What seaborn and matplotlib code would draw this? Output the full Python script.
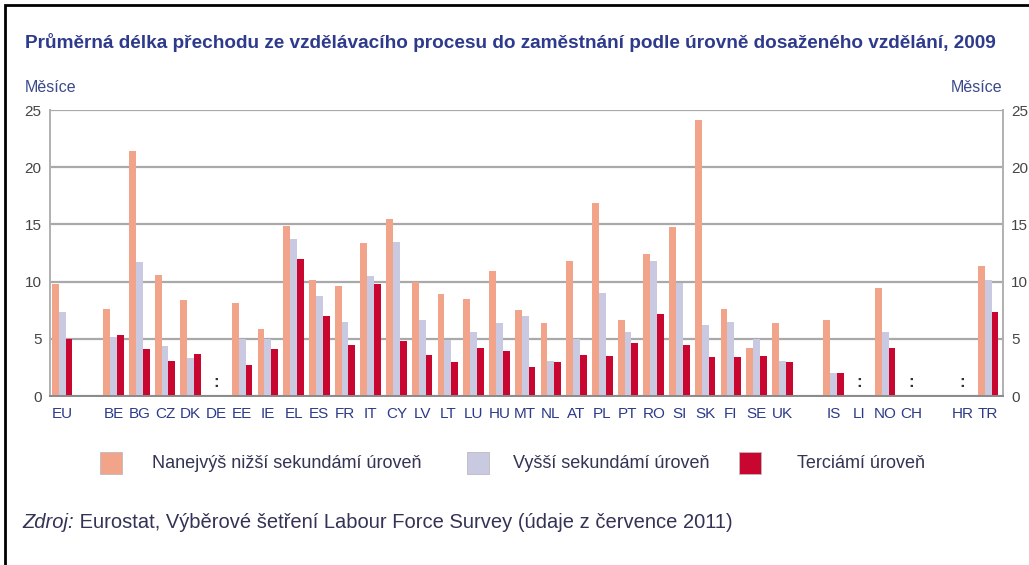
import numpy as np
import pandas as pd
import matplotlib
matplotlib.use("Agg")
import matplotlib.pyplot as plt
from matplotlib import font_manager
from matplotlib.patches import Rectangle
import seaborn as sns

# ---------------- data ----------------
countries = ["EU", "BE", "BG", "CZ", "DK", "DE", "EE", "IE", "EL", "ES", "FR",
             "IT", "CY", "LV", "LT", "LU", "HU", "MT", "NL", "AT", "PL", "PT",
             "RO", "SI", "SK", "FI", "SE", "UK", "IS", "LI", "NO", "CH", "HR", "TR"]
nan = np.nan
lower_secondary = [9.8, 7.6, 21.4, 10.6, 8.4, nan, 8.1, 5.9, 14.9, 10.1, 9.6,
                   13.4, 15.5, 10.0, 8.9, 8.5, 10.9, 7.5, 6.4, 11.8, 16.9, 6.6,
                   12.4, 14.8, 24.1, 7.6, 4.2, 6.4, 6.6, nan, 9.4, nan, nan, 11.4]
upper_secondary = [7.3, 5.2, 11.7, 4.4, 3.3, nan, 5.0, 5.0, 13.7, 8.7, 6.5,
                   10.5, 13.5, 6.6, 4.9, 5.6, 6.4, 7.0, 3.1, 5.0, 9.0, 5.6,
                   11.8, 9.9, 6.2, 6.5, 5.0, 3.1, 2.0, nan, 5.6, nan, nan, 10.1]
tertiary = [5.0, 5.3, 4.1, 3.1, 3.7, nan, 2.7, 4.1, 12.0, 7.0, 4.5,
            9.8, 4.8, 3.6, 3.0, 4.2, 3.9, 2.5, 3.0, 3.6, 3.5, 4.6,
            7.2, 4.5, 3.4, 3.4, 3.5, 3.0, 2.0, nan, 4.2, nan, nan, 7.3]
levels = ["Nanejvýš nižší sekundámí úroveň", "Vyšší sekundámí úroveň", "Terciámí úroveň"]
# groups separated by empty slots
groups = [["EU"],
          ["BE", "BG", "CZ", "DK", "DE", "EE", "IE", "EL", "ES", "FR", "IT", "CY",
           "LV", "LT", "LU", "HU", "MT", "NL", "AT", "PL", "PT", "RO", "SI", "SK",
           "FI", "SE", "UK"],
          ["IS", "LI", "NO", "CH"],
          ["HR", "TR"]]
yticks = [0, 5, 10, 15, 20, 25]

title = "Průměrná délka přechodu ze vzdělávacího procesu do zaměstnání podle úrovně dosaženého vzdělání, 2009"
unit = "Měsíce"
source_lbl = "Zdroj:"
source_txt = " Eurostat, Výběrové šetření Labour Force Survey (údaje z července 2011)"

colors = ["#F2A48A", "#C9C9E1", "#C8062F"]

# ---------------- frame ----------------
df = pd.DataFrame({"country": countries * 3,
                   "level": sum([[l] * len(countries) for l in levels], []),
                   "value": lower_secondary + upper_secondary + tertiary})

order = []
for i, g in enumerate(groups):
    if i > 0:
        order.append(" " * i)
    order += g

avail = {f.name for f in font_manager.fontManager.ttflist}
regular = "Liberation Sans" if "Liberation Sans" in avail else "DejaVu Sans"

sns.set_style("white")
plt.rcParams["font.family"] = [regular, "DejaVu Sans"]

W, H = 1029, 565
fig = plt.figure(figsize=(W / 100, H / 100), dpi=100)
ax = fig.add_axes([50 / W, 1 - 396 / H, 953 / W, 286 / H])

sns.barplot(data=df, x="country", y="value", hue="level", order=order,
            hue_order=levels, palette=colors, saturation=1, width=0.8,
            errorbar=None, legend=False, ax=ax, linewidth=0)

ax.set_ylim(0, 25)
ax.set_xlim(-0.47, len(order) - 1 + 0.58)
ax.set_yticks(yticks)
ax.set_yticklabels([str(t) for t in yticks])
ax.set_xticks(range(len(order)))
ax.set_xticklabels([o if o.strip() else "" for o in order])
ax.set_xlabel("")
ax.set_ylabel("")
ax.yaxis.grid(True, color="#A9A9A9", linewidth=1.6)
ax.set_axisbelow(True)
ax.tick_params(axis="y", labelright=True, left=False, right=False, length=0,
               labelsize=11, colors="#454545", pad=6)
ax.tick_params(axis="x", bottom=False, length=0, labelsize=11,
               labelcolor="#2B3A8A", pad=8)
for s in ["left", "right", "bottom"]:
    ax.spines[s].set_color("#B0B0B0")
    ax.spines[s].set_linewidth(1.4)
ax.spines["top"].set_visible(False)
ax.spines["bottom"].set_color("#8A8A8A")

# missing data markers
for c in countries:
    if np.isnan(lower_secondary[countries.index(c)]):
        ax.text(order.index(c), 1.2, ":", ha="center", va="center",
                fontsize=12, fontweight="bold", color="#333333")

# title, fitted to the reference width
tt = fig.text(25 / W, 1 - 42 / H, title, fontsize=13, fontweight="bold",
              color="#2E3A8C", ha="left", va="center")
fig.canvas.draw()
tw = tt.get_window_extent().width
tt.set_fontsize(13 * 972 / tw)

fig.text(25 / W, 1 - 88 / H, unit, fontsize=11.5, color="#3A4A8A", ha="left", va="center")
fig.text(1002 / W, 1 - 88 / H, unit, fontsize=11.5, color="#3A4A8A", ha="right", va="center")

# legend
leg_y = 1 - 463 / H
sw = [(100, 152), (467, 513), (739, 797)]
for (sx, tx), col, lab in zip(sw, colors, levels):
    fig.add_artist(Rectangle((sx / W, 1 - 474 / H), 22 / W, 22 / H,
                             transform=fig.transFigure, facecolor=col,
                             edgecolor="#BBBBBB", linewidth=0.6))
    fig.text(tx / W, leg_y, lab, fontsize=13, color="#333355",
             ha="left", va="center")

# source
t = fig.text(22 / W, 1 - 522 / H, source_lbl, fontsize=14.5, color="#333355",
             style="italic", ha="left", va="center")
fig.canvas.draw()
bb = t.get_window_extent()
fig.text(bb.x1 / W, 1 - 522 / H, source_txt, fontsize=14.5, color="#333355",
         ha="left", va="center")

# outer frame (right and bottom edges lie outside the picture)
fig.add_artist(Rectangle((5 / W, -0.2), 1.2, 1.2 - 5 / H,
                         transform=fig.transFigure, fill=False,
                         edgecolor="black", linewidth=2))

fig.savefig("out.png", dpi=100)
